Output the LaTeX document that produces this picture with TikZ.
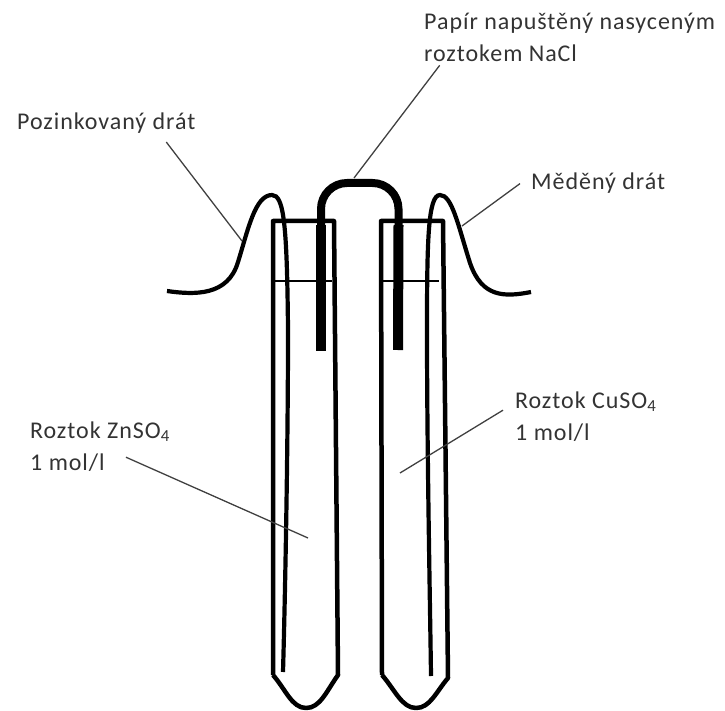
\documentclass[tikz,border=0pt]{standalone}
\usepackage{fontspec}
\setmainfont[LetterSpace=4]{Carlito}
\tikzset{
  label/.style={inner sep=0pt,anchor=base west,align=left,text=black!80,font=\fontsize{24}{32}\selectfont},
  tube/.style={draw=black,line width=4.5pt,line join=round},
  wire/.style={draw=black,line width=4.2pt},
  bridge/.style={draw=black,line width=8pt},
  leg/.style={draw=black,line width=10pt},
  leader/.style={draw=black!75,line width=1.3pt},
  level/.style={draw=black,line width=1.2pt}
}
\begin{document}
\begin{tikzpicture}[x=1pt,y=-1pt]
      \useasboundingbox (0,0) rectangle (725,711);
      % glass tubes
      \draw[tube] (273,675) -- (273,221) -- (334,221) -- (338,675)
        .. controls (326,692) and (320,708) .. (306,708)
        .. controls (292,708) and (286,690) .. (273,675);
      \draw[tube] (382,675) -- (381,221) -- (443,221) -- (448,678)
        .. controls (436,692) and (430,708) .. (416,708)
        .. controls (402,708) and (395,690) .. (382,675);
      % liquid level
      \draw[level] (273,281) -- (332,281);
      \draw[level] (379,281) -- (439,281);
      % wires
      \draw[wire] (167,291) .. controls (195,295) and (228,296) .. (238,262)
        .. controls (248,230) and (255,195) .. (272,195)
        .. controls (284,195) and (287,225) .. (288,330)
        .. controls (288,450) and (285,600) .. (283,672);
      \draw[wire] (531,292) .. controls (505,297) and (482,298) .. (470,263)
        .. controls (458,225) and (452,195) .. (440,195)
        .. controls (428,195) and (427,240) .. (427,330)
        .. controls (427,450) and (430,600) .. (431,676);
      % paper bridge
      \draw[bridge,rounded corners=26pt] (321,300) -- (321,183) -- (398.5,183) -- (398.5,300);
      \draw[leg] (321,225) -- (321,351);
      \draw[leg] (398.5,225) -- (398,350);
      % labels
      \node[label] (paper) at (424,62) {Papír napuštěný nasyceným\\roztokem NaCl};
      \node[label] (zinc) at (17,130) {Pozinkovaný drát};
      \node[label] (copper) at (531,190) {Měděný drát};
      \node[label] (znso) at (30,470) {Roztok ZnSO\textsubscript{4}\\1 mol/l};
      \node[label] (cuso) at (515,440) {Roztok CuSO\textsubscript{4}\\1 mol/l};
      \coordinate (zincend) at (242,241);
      \coordinate (paperend) at (354,178);
      \coordinate (copperend) at (462,226);
      \coordinate (znsoend) at (308,538);
      \coordinate (cusoend) at (400,473);
      \draw[leader] ([xshift=60pt,yshift=-8pt]zinc.south) -- (zincend);
      \draw[leader] ([xshift=-130pt,yshift=-3pt]paper.south) -- (paperend);
      \draw[leader] ([xshift=-11pt]copper.west) -- (copperend);
      \draw[leader] ([xshift=26pt,yshift=14pt]znso.south) -- (znsoend);
      \draw[leader] ([xshift=-12pt,yshift=6pt]cuso.west) -- (cusoend);
    \end{tikzpicture}
\end{document}
